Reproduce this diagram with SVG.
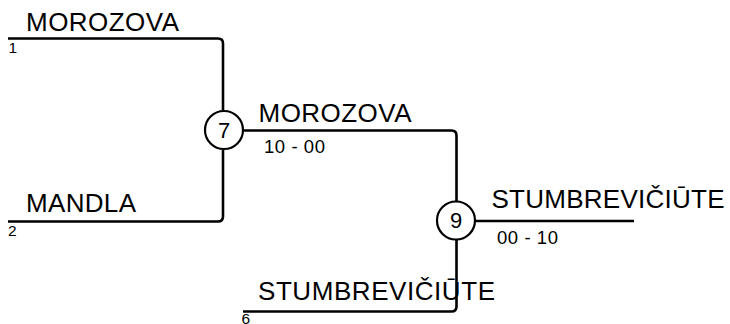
<svg xmlns="http://www.w3.org/2000/svg" width="730" height="324" viewBox="0 0 730 324">
<style>
.ln{fill:none;stroke:#000;stroke-width:2.6;stroke-linejoin:round}
.c{fill:#fff;stroke:#000;stroke-width:2.2}
.nm{font-family:"Liberation Sans",Arial,sans-serif;font-size:26px;fill:#000}
.sc{font-family:"Liberation Sans",Arial,sans-serif;font-size:18.5px;fill:#000}
.sd{font-family:"Liberation Sans",Arial,sans-serif;font-size:15.5px;fill:#000}
.rn{font-family:"Liberation Sans",Arial,sans-serif;font-size:22px;fill:#000;text-anchor:middle}
</style>
<rect width="730" height="324" fill="#fff"/>
<g id="connectors">
<path class="ln" d="M8,38.5 H218 Q223,38.5 223,43.5 V110"/>
<path class="ln" d="M223,150 V216.5 Q223,221.5 218,221.5 H8"/>
<path class="ln" d="M244,130.5 H451.5 Q456.5,130.5 456.5,135.5 V201"/>
<path class="ln" d="M456.5,240 V306.5 Q456.5,311.5 451.5,311.5 H243"/>
<path class="ln" d="M475,221 H634"/>
</g>
<g id="entry1">
<text class="nm" x="26" y="31" textLength="153" lengthAdjust="spacing">MOROZOVA</text>
<text class="sd" x="8.5" y="52.5">1</text>
</g>
<g id="entry2">
<text class="nm" x="26" y="212" textLength="110" lengthAdjust="spacing">MANDLA</text>
<text class="sd" x="8" y="236">2</text>
</g>
<g id="entry6">
<text class="nm" x="258" y="300" textLength="237" lengthAdjust="spacing">STUMBREVIČIŪTE</text>
<text class="sd" x="241.5" y="324">6</text>
</g>
<g id="match7">
<circle class="c" cx="224" cy="130" r="19"/>
<text class="rn" x="224" y="138.3">7</text>
<text class="nm" x="258.5" y="122" textLength="153" lengthAdjust="spacing">MOROZOVA</text>
<text class="sc" x="264" y="152.5" textLength="61" lengthAdjust="spacing">10 - 00</text>
</g>
<g id="match9">
<circle class="c" cx="456" cy="220.5" r="19"/>
<text class="rn" x="456" y="228">9</text>
<text class="nm" x="491.5" y="208" textLength="233" lengthAdjust="spacing">STUMBREVIČIŪTE</text>
<text class="sc" x="497" y="244" textLength="61" lengthAdjust="spacing">00 - 10</text>
</g>
</svg>
